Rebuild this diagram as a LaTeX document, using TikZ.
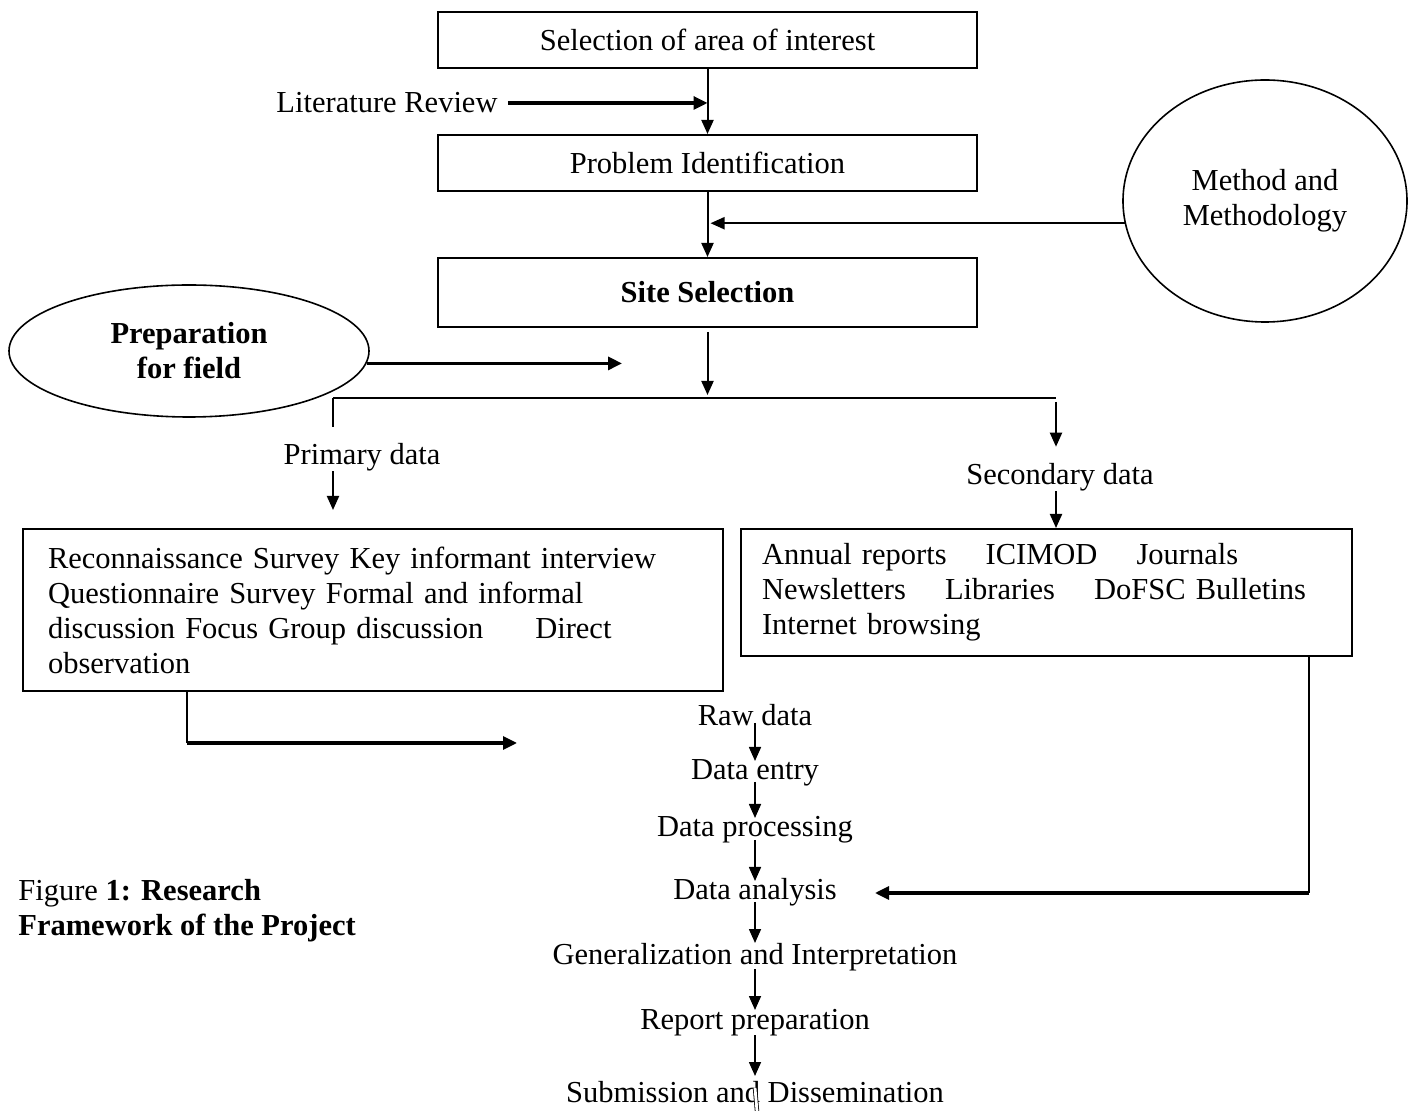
\documentclass[tikz,border=0pt]{standalone}
\usepackage{fontspec}
\setmainfont{Liberation Serif}
\usepackage{tikz}
\usetikzlibrary{shapes.geometric, arrows.meta, positioning}

\begin{document}
\begin{tikzpicture}[
    x=0.5pt, y=-0.5pt,
    font=\fontsize{15.25pt}{17.5pt}\selectfont,
    box/.style={rectangle, draw, line width=1pt, minimum width=269.5pt, minimum height=#1, inner sep=0pt},
    box/.default=28pt,
    oval/.style={ellipse, draw, line width=0.8pt, align=center, inner sep=0pt},
    lbl/.style={inner sep=0pt},
    txtbox/.style={rectangle, draw, line width=1pt, align=left, anchor=north west, inner ysep=0pt},
    line/.style={line width=0.9pt},
    arrow/.style={-{Triangle[length=7pt, width=6pt]}, line width=1pt},
    bigarrow/.style={-{Triangle[length=7pt, width=6.5pt]}, line width=1.6pt},
    chainarrow/.style={-{Triangle[length=7pt, width=6pt]}, line width=0.8pt}
]
\useasboundingbox (0,0) rectangle (1414,1111);

% Main boxes
\node[box] (sel) at (707.5,40) {Selection of area of interest};
\node[box] (prob) at (707.5,163) {Problem Identification};
\node[box=34.5pt, font=\fontsize{15.25pt}{17.5pt}\selectfont\bfseries] (site) at (707.5,292.5) {Site Selection};

% Side inputs
\node[lbl] (lit) at (387,103) {Literature Review};
\node[oval, minimum width=142pt, minimum height=121pt] (meth) at (1265,201) {Method and\\Methodology};
\node[oval, minimum width=180pt, minimum height=66pt, font=\fontsize{15.25pt}{17.5pt}\selectfont\bfseries] (prep) at (189,351) {Preparation\\for field};

% Data branches
\node[lbl] (pdata) at (362,457) {Primary data};
\node[lbl] (sdata) at (1060,477) {Secondary data};

\node[txtbox, text width=325pt, inner xsep=12.5pt, minimum height=81pt] (prim) at (22,528)
    {Reconnaissance Survey Key informant interview\\
     Questionnaire Survey Formal and informal\\
     discussion Focus Group discussion\hspace{1.7em}Direct\\
     observation};
\node[txtbox, text width=284.5pt, inner xsep=10.5pt, minimum height=63.5pt] (sec) at (740,528)
    {Annual reports\hspace{1.28em}ICIMOD\hspace{1.28em}Journals\\
     Newsletters\hspace{1.28em}Libraries\hspace{1.28em}DoFSC Bulletins\\
     Internet browsing};

% Processing chain
\node[lbl] (raw) at (755,715) {Raw data};
\node[lbl] (entry) at (755,773) {Data entry};
\node[lbl] (proc) at (755,830) {Data processing};
\node[lbl] (ana) at (755,892) {Data analysis};
\node[lbl] (gen) at (755,957) {Generalization and Interpretation};
\node[lbl] (rep) at (755,1023) {Report preparation};
\node[lbl] (sub) at (755,1092) {Submission and Dissemination};

% Caption
\node[lbl, align=left, anchor=west] (cap) at (18,911) {Figure \textbf{1: Research}\\\textbf{Framework of the Project}};

% Free ends
\coordinate (splitl) at (333,398);
\coordinate (splitr) at (1056,398);
\coordinate (pin) at (333,510);
\coordinate (prepin) at (622,364);
\coordinate (pbend) at (187,743);
\coordinate (rawin) at (517,743);
\coordinate (sbend) at (1309,893);
\coordinate (anain) at (875,893);
\coordinate (stub) at (757,1111);

% Arrows, top part
\draw[arrow] (sel.south) -- (prob.north);
\draw[bigarrow, shorten <=5pt] (lit.east) -- (lit.east -| sel.south);
\draw[arrow] (prob.south) -- (site.north);
\draw[arrow, shorten >=1.5pt] (meth.189) -- (meth.189 -| site.north);
\draw[bigarrow] (prep.-4) -- (prep.-4 -| prepin);
\draw[arrow, shorten <=2pt, shorten >=1.5pt] (site.south) -- (site.south |- splitl);

% Split into primary and secondary
\draw[line] (splitl) -- (splitr);
\draw[line] (splitl) -- ++(0,29);
\draw[arrow] (splitl |- pdata.south) -- (pin);
\draw[arrow, shorten <=2pt, shorten >=8pt] (splitr) -- (splitr |- sdata.north);
\draw[arrow] (splitr |- sdata.south) -- (splitr |- sec.north);

% Into the chain
\draw[line] (prim.south -| pbend) -- (pbend);
\draw[bigarrow] (pbend) -- (rawin);
\draw[line] (sec.south -| sbend) -- (sbend);
\draw[bigarrow] (sbend) -- (anain);

% Chain arrows
\draw[chainarrow] ([yshift=-4pt]raw.center) -- ([yshift=6pt]entry.center);
\draw[chainarrow] ([yshift=-4.5pt]entry.center) -- ([yshift=6pt]proc.center);
\draw[chainarrow] ([yshift=-5pt]proc.center) -- ([yshift=5.5pt]ana.center);
\draw[chainarrow] ([yshift=-5pt]ana.center) -- ([yshift=7pt]gen.center);
\draw[chainarrow] ([yshift=-6pt]gen.center) -- ([yshift=6.5pt]rep.center);
\draw[chainarrow] ([yshift=-6pt]rep.center) -- ([yshift=8pt]sub.center);
\draw[double, double distance=1.4pt, line width=0.4pt] ([yshift=2pt]sub.center) -- (stub);
\end{tikzpicture}
\end{document}
